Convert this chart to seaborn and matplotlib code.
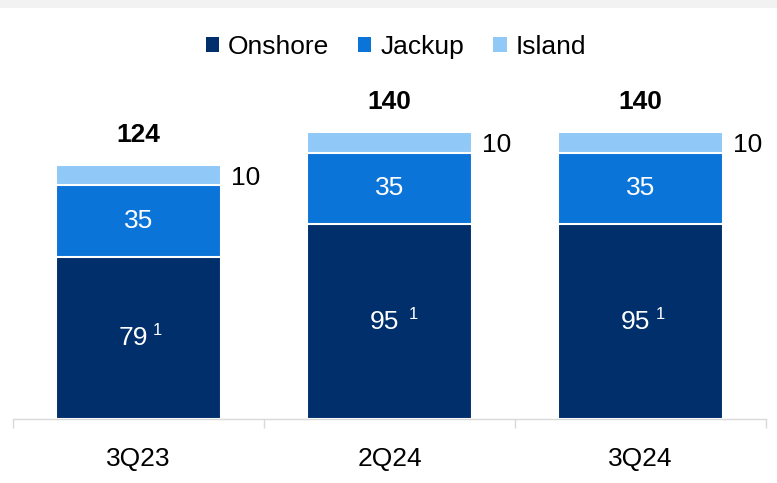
import matplotlib
matplotlib.use("Agg")
import matplotlib.pyplot as plt
import matplotlib.patches as mpatches
import numpy as np
import pandas as pd
import seaborn as sns

# Rig count by type
quarters = ["3Q23", "2Q24", "3Q24"]
onshore = [79, 95, 95]
jackup = [35, 35, 35]
island = [10, 10, 10]
series_names = ["Onshore", "Jackup", "Island"]
colors = ["#002F6C", "#0B74D9", "#90C8F8"]

sns.set_theme(style="white")
plt.rcParams["font.family"] = ["Liberation Sans", "DejaVu Sans"]
plt.rcParams["text.color"] = "black"

df = pd.DataFrame({"quarter": quarters, "Onshore": onshore,
                   "Jackup": jackup, "Island": island})
df["lvl1"] = df["Onshore"]
df["lvl2"] = df["Onshore"] + df["Jackup"]
df["lvl3"] = df["lvl2"] + df["Island"]

fig = plt.figure(figsize=(7.77, 4.83), dpi=100)
fig.patch.set_facecolor("white")
ax = fig.add_axes([13 / 777, 64 / 483, (766 - 13) / 777, 0.82 - 64 / 483])

# top grey strip
fig.patches.append(mpatches.Rectangle((0, 1 - 7.5 / 483), 1, 7.5 / 483,
                                      transform=fig.transFigure,
                                      facecolor="#F2F2F2", edgecolor="none",
                                      zorder=0))

bar_w = 0.66
# stacked bars drawn from the cumulative totals downward
for col, c in zip(["lvl3", "lvl2", "lvl1"], colors[::-1]):
    sns.barplot(data=df, x="quarter", y=col, color=c, saturation=1,
                width=bar_w, edgecolor="white", linewidth=1.5, ax=ax)

ax.set_xlim(-0.5, 2.5)
ax.set_ylim(0, 162)
ax.set_xlabel("")
ax.set_ylabel("")
ax.set_yticks([])
for s in ["left", "right", "top"]:
    ax.spines[s].set_visible(False)
ax.spines["bottom"].set_color("#D9D9D9")
ax.spines["bottom"].set_linewidth(1.0)

ax.set_xticks(range(len(quarters)))
ax.set_xticklabels(quarters, fontsize=19, color="black")
ax.tick_params(axis="x", which="major", length=0, pad=20)
ax.set_xticks([-0.5, 0.5, 1.5, 2.5], minor=True)
ax.tick_params(axis="x", which="minor", bottom=True, length=6.5, width=1.0,
               color="#D9D9D9", direction="out")

fs = 19
sup_gap = [0.055, 0.075, 0.06]
for i, q in enumerate(quarters):
    on, jk, isl = onshore[i], jackup[i], island[i]
    total = on + jk + isl
    # onshore value with footnote marker
    ax.text(i + 0.04, on / 2, f"{on}", ha="right", va="center",
            fontsize=fs, color="white")
    ax.text(i + sup_gap[i], on / 2 + 3.5, "1", ha="left", va="center",
            fontsize=12, color="white")
    # jackup value
    ax.text(i, on + jk / 2, f"{jk}", ha="center", va="center",
            fontsize=fs, color="white")
    # island value beside the bar
    ax.annotate(f"{isl}", xy=(i + bar_w / 2, on + jk + isl / 2),
                xytext=(10, -3), textcoords="offset pixels",
                ha="left", va="center", fontsize=fs, color="black")
    # total above bar
    ax.annotate(f"{total}", xy=(i, total), xytext=(0, 30),
                textcoords="offset pixels", ha="center", va="center",
                fontsize=fs, fontweight="bold", color="black")

handles = [mpatches.Patch(facecolor=c, edgecolor="none") for c in colors]
fig.legend(handles, series_names, loc="center",
           bbox_to_anchor=(396 / 777, 1 - 47 / 483), ncol=3, frameon=False,
           fontsize=fs, handlelength=0.5, handleheight=0.5,
           handletextpad=0.35, columnspacing=1.1, borderaxespad=0,
           labelcolor="black")

fig.savefig("out.png", dpi=100, facecolor="white")
